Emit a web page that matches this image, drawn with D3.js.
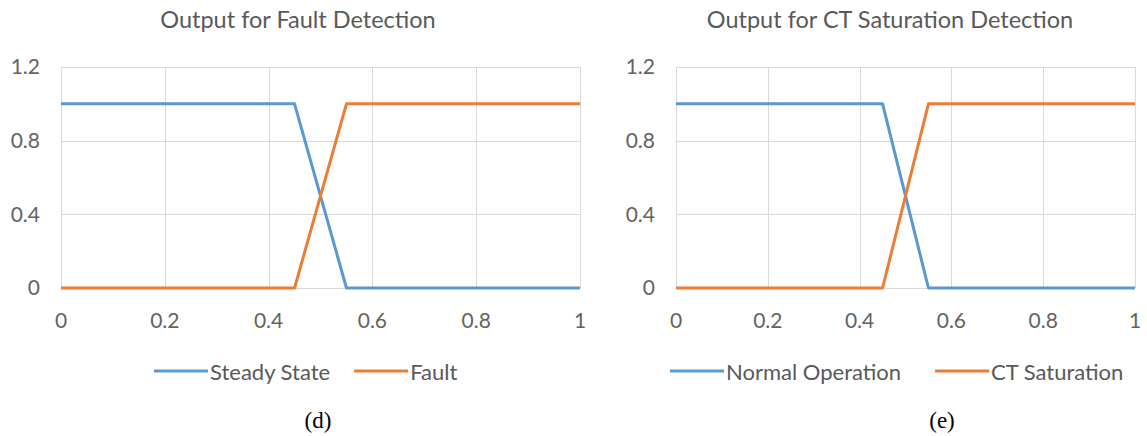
<!DOCTYPE html>
<html>
<head>
<meta charset="utf-8">
<script src="https://cdn.jsdelivr.net/npm/d3@7"></script>
<style>
    body { margin: 0; background: #ffffff; }
    svg { display: block; }
</style>
</head>
<body>
<svg id="chart-svg" width="1147" height="436"></svg>
<script>
// Values
const xValues = [0, 0.45, 0.55, 1];
const steadyState = [1, 1, 0, 0];
const fault = [0, 0, 1, 1];
const normalOperation = [1, 1, 0, 0];
const ctSaturation = [0, 0, 1, 1];

const xTicks = [0, 0.2, 0.4, 0.6, 0.8, 1];
const yTicks = [0, 0.4, 0.8, 1.2];
const xTickLabels = ["0", "0.2", "0.4", "0.6", "0.8", "1"];
const yTickLabels = ["0", "0.4", "0.8", "1.2"];

const seriesColors = ["#5b97d0", "#eb7d36"];

const svg = d3.select('#chart-svg');

// Function to draw one panel
function createLineChart(opts) {
    const g = svg.append("g");

    const x = d3.scaleLinear().domain([0, 1]).range([opts.left, opts.right]);
    const y = d3.scaleLinear().domain([0, 1.2]).range([288, 67]);

    // Gridlines
    g.selectAll(".hgrid")
        .data(yTicks)
        .enter().append("line")
        .attr("x1", x(0)).attr("x2", x(1))
        .attr("y1", d => Math.round(y(d)) + 0.5)
        .attr("y2", d => Math.round(y(d)) + 0.5)
        .attr("stroke", "#d9d9d9")
        .attr("stroke-width", 1);

    g.selectAll(".vgrid")
        .data(xTicks)
        .enter().append("line")
        .attr("x1", d => Math.round(x(d)) + 0.5)
        .attr("x2", d => Math.round(x(d)) + 0.5)
        .attr("y1", y(1.2)).attr("y2", y(0))
        .attr("stroke", "#d9d9d9")
        .attr("stroke-width", 1);

    // Tick labels
    g.selectAll(".ylab")
        .data(yTicks)
        .enter().append("text")
        .attr("x", opts.left - 21)
        .attr("y", d => y(d))
        .attr("dy", "0.35em")
        .attr("text-anchor", "end")
        .attr("fill", "#636363")
        .style("font", "21px Lato, sans-serif")
        .text((d, i) => yTickLabels[i]);

    g.selectAll(".xlab")
        .data(xTicks)
        .enter().append("text")
        .attr("x", d => x(d))
        .attr("y", 321)
        .attr("dy", "0.35em")
        .attr("text-anchor", "middle")
        .attr("fill", "#636363")
        .style("font", "21px Lato, sans-serif")
        .text((d, i) => xTickLabels[i]);

    // Lines
    const line = d3.line()
        .x(d => x(d[0]))
        .y(d => y(d[1]));

    opts.series.forEach(function(s, i) {
        g.append("path")
            .datum(xValues.map((xv, j) => [xv, s.values[j]]))
            .attr("d", line)
            .attr("fill", "none")
            .attr("stroke", seriesColors[i])
            .attr("stroke-width", 3)
            .attr("stroke-linejoin", "round");
    });

    // Title
    g.append("text")
        .attr("x", opts.titleX)
        .attr("y", 28)
        .attr("text-anchor", "middle")
        .attr("fill", "#595959")
        .style("font", "23.5px Lato, sans-serif")
        .text(opts.title);

    // Legend
    let lx = opts.legendX;
    opts.series.forEach(function(s, i) {
        g.append("line")
            .attr("x1", lx).attr("x2", lx + 54)
            .attr("y1", 371).attr("y2", 371)
            .attr("stroke", seriesColors[i])
            .attr("stroke-width", 3);
        const t = g.append("text")
            .attr("x", lx + 56)
            .attr("y", 372)
            .attr("dy", "0.35em")
            .attr("fill", "#595959")
            .style("font", "22px Lato, sans-serif")
            .text(s.name);
        lx += 56 + t.node().getComputedTextLength() + opts.legendGap;
    });

    // Panel label
    svg.append("text")
        .attr("x", opts.captionX)
        .attr("y", 428)
        .attr("text-anchor", "middle")
        .attr("fill", "#000000")
        .style("font", "23px 'Liberation Serif', 'Times New Roman', serif")
        .text(opts.caption);
}

createLineChart({
    left: 61, right: 580,
    title: "Output for Fault Detection", titleX: 298,
    legendX: 154, legendGap: 24,
    caption: "(d)", captionX: 318,
    series: [
        { name: "Steady State", values: steadyState },
        { name: "Fault", values: fault }
    ]
});

createLineChart({
    left: 676, right: 1135,
    title: "Output for CT Saturation Detection", titleX: 890,
    legendX: 670, legendGap: 34,
    caption: "(e)", captionX: 942,
    series: [
        { name: "Normal Operation", values: normalOperation },
        { name: "CT Saturation", values: ctSaturation }
    ]
});
</script>
</body>
</html>
